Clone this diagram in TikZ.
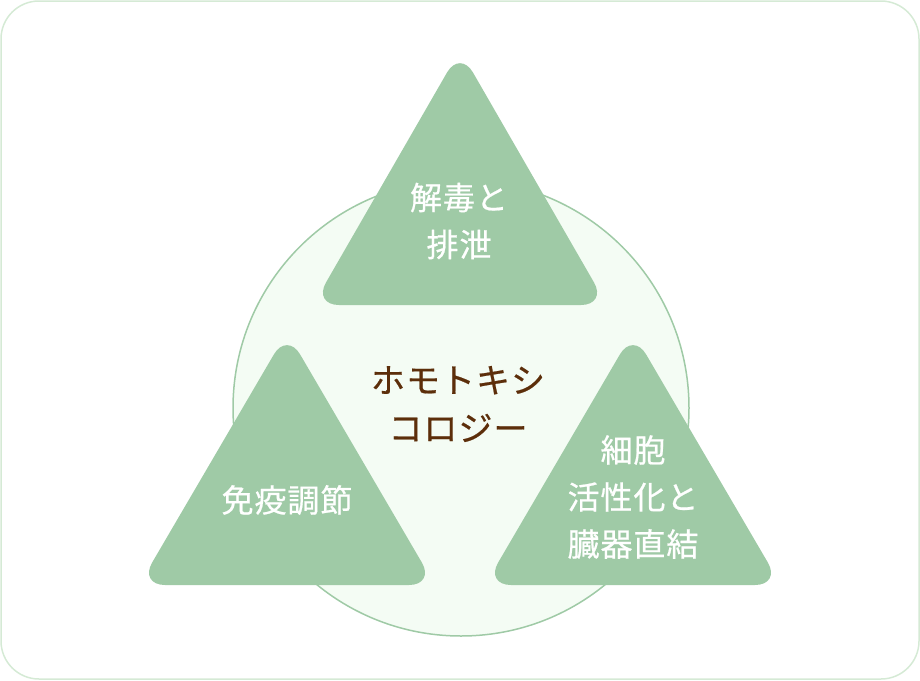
\documentclass[tikz,border=0pt]{standalone}
\usepackage{fontspec}
\setmainfont{Noto Sans CJK JP}
\newfontfamily\jpfont[FakeBold=0.6, LetterSpace=3]{Noto Sans CJK JP}
\usepackage{xcolor}
\definecolor{leaf}{HTML}{9FCAA6}
\definecolor{mint}{HTML}{F4FCF4}
\definecolor{frame}{HTML}{D5EAD5}
\definecolor{bark}{HTML}{5C2E0A}

\begin{document}
\begin{tikzpicture}[
	x=1pt, y=-1pt,
	tri/.style={fill=leaf, rounded corners=26pt},
	label/.style={text=white, font=\jpfont\fontsize{32}{47}\selectfont, align=center, inner sep=0pt},
	core/.style={text=bark, font=\jpfont\fontsize{34}{48}\selectfont, align=center, inner sep=0pt}
	]
	\useasboundingbox (0,0) rectangle (920,680);
	\draw[frame, line width=1.5pt, rounded corners=38pt] (1,1) rectangle (919,679);
	\draw[fill=mint, draw=leaf, line width=1.5pt] (461,408) circle (228);
	% three triangles
	\fill[tri] (313,305) -- (460,50) -- (607,305) -- cycle;
	\fill[tri] (139,585) -- (287,332) -- (435,585) -- cycle;
	\fill[tri] (485,585) -- (633,332) -- (781,585) -- cycle;
	\node[label] (detox) at (459,221) {解毒と\\排泄};
	\node[label] (immune) at (287,500) {免疫調節};
	\node[label] (cell) at (633,497) {細胞\\活性化と\\臓器直結};
	\node[core] (homo) at (458,404) {ホモトキシ\\コロジー};
\end{tikzpicture}
\end{document}
